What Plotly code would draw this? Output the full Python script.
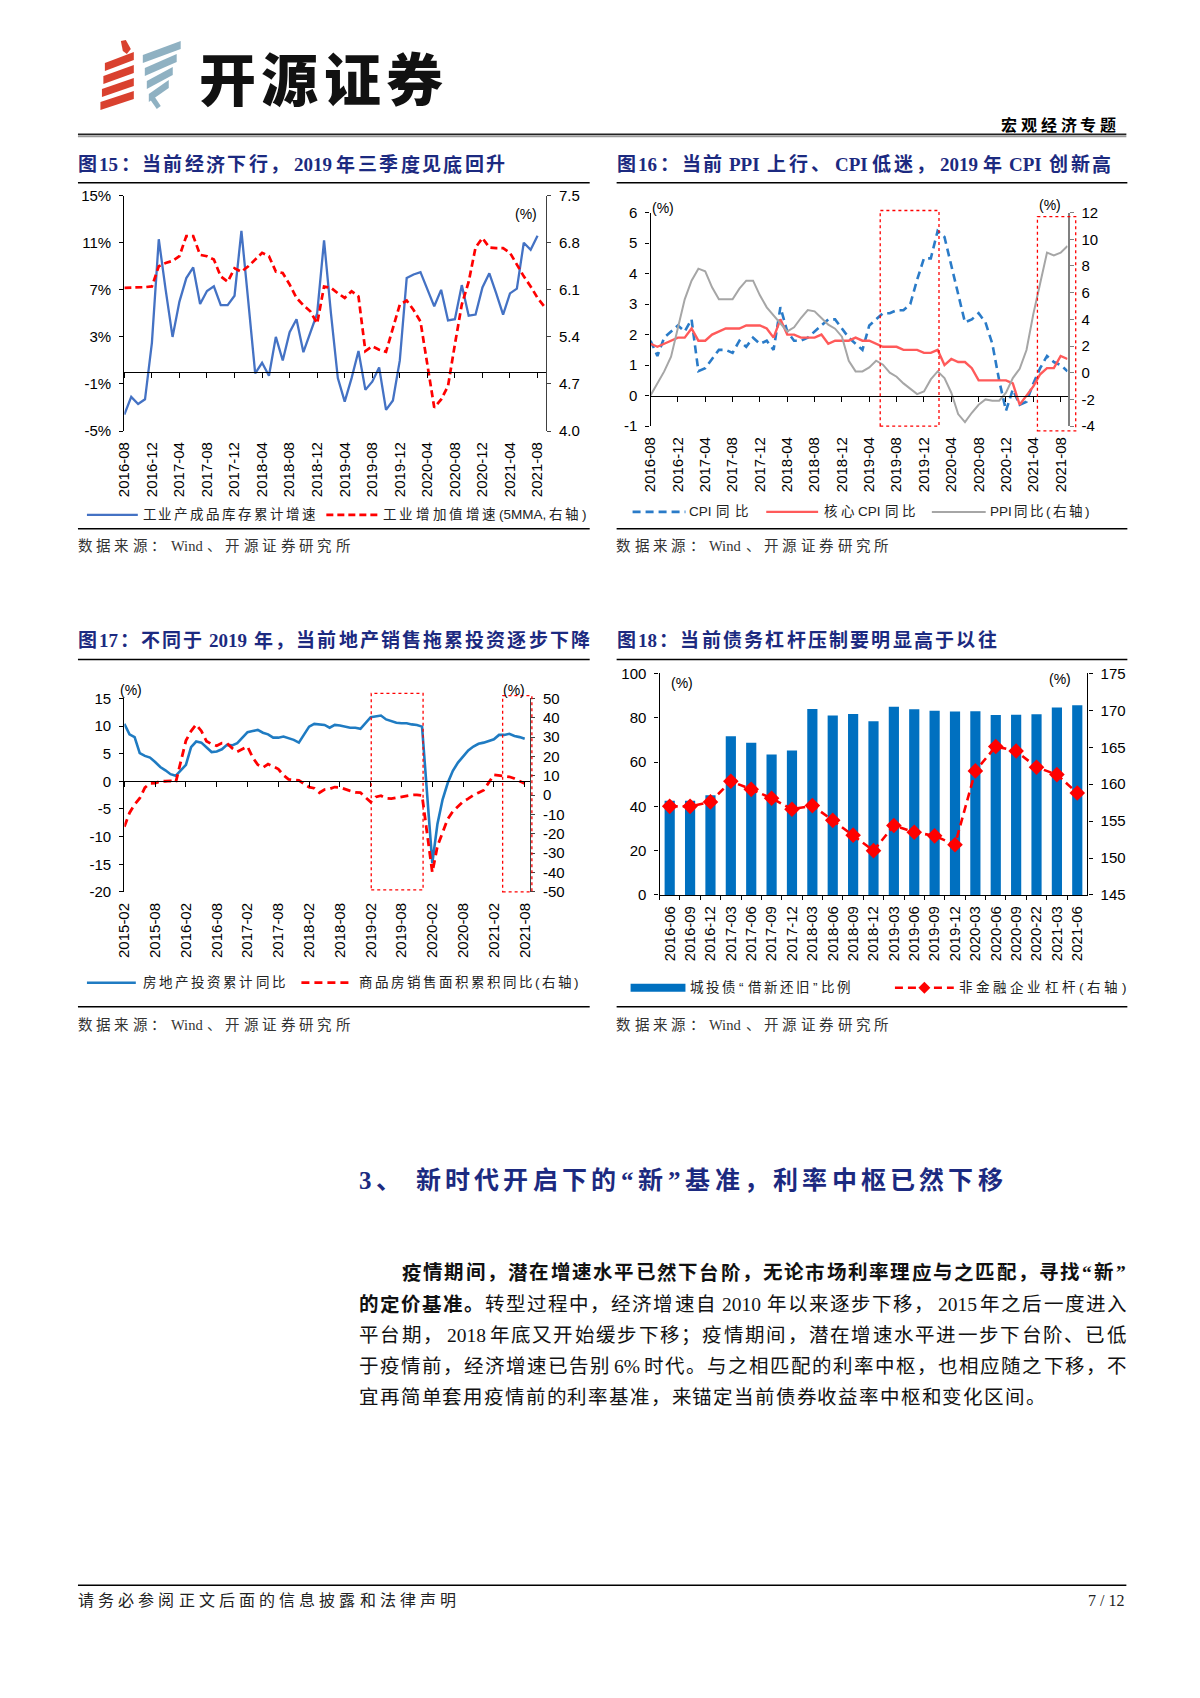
import plotly.graph_objects as go

W, H = 1200, 1698


def TX(v):
    # page-pixel calibration (screenshot offset of the rendered page)
    return v * 1.0076 - 15


def PX(x):
    return TX(x) / W


def PY(y):
    return 1 - TX(y) / H


def month_range(start, end):
    y, m = map(int, start.split("-"))
    ye, me = map(int, end.split("-"))
    out = []
    while (y, m) <= (ye, me):
        out.append(f"{y}-{m:02d}")
        m += 1
        if m > 12:
            y, m = y + 1, 1
    return out


# ======================= DATA =======================
# Fig 15
months15 = month_range("2016-08", "2021-09")
ticks15 = months15[0:61:4]
inventory15 = [-3.6, -2.1, -2.7, -2.3, 2.5, 11.3, 7.0, 3.0, 6.0, 8.0,
               8.9, 5.8, 6.9, 7.3, 5.7, 5.7, 6.5, 12.0, 6.0, -0.1,
               0.8, -0.3, 3.0, 1.0, 3.4, 4.5, 1.7, 3.4, 5.0, 11.2,
               5.0, -0.5, -2.5, -0.5, 1.8, -1.5, -0.8, 0.4, -3.2, -2.4,
               1.0, 8.0, 8.3, 8.5, 7.0, 5.6, 7.0, 4.4, 4.5, 7.4,
               4.8, 4.9, 7.2, 8.4, 6.7, 4.9, 6.7, 7.1, 11.0, 10.4,
               11.6, None]
iva15 = [6.13, 6.13, 6.13, 6.14, 6.15, 6.45, 6.5, 6.53, 6.6, 6.9,
         6.9, 6.62, 6.6, 6.55, 6.3, 6.22, 6.42, 6.37, 6.45, 6.55,
         6.65, 6.6, 6.37, 6.35, 6.18, 5.98, 5.87, 5.78, 5.6, 6.15,
         6.13, 6.05, 5.98, 6.08, 6.0, 5.19, 5.26, 5.21, 5.18, 5.53,
         5.88, 5.94, 5.8, 5.63, 4.99, 4.35, 4.47, 4.67, 5.29, 5.88,
         6.22, 6.73, 6.87, 6.73, 6.72, 6.72, 6.65, 6.47, 6.3, 6.15,
         5.98, 5.85]
left15_vals = [-5, -1, 3, 7, 11, 15]
left15_text = ["-5%", "-1%", "3%", "7%", "11%", "15%"]
right15_vals = [4.0, 4.7, 5.4, 6.1, 6.8, 7.5]
right15_text = ["4.0", "4.7", "5.4", "6.1", "6.8", "7.5"]

# Fig 16
months16 = month_range("2016-08", "2021-09")
ticks16 = months16[0:61:4]
cpi16 = [1.8, 1.3, 1.9, 2.1, 2.3, 2.1, 2.5, 0.8, 0.9, 1.2,
         1.5, 1.5, 1.4, 1.8, 1.6, 1.9, 1.7, 1.8, 1.5, 2.9,
         2.1, 1.8, 1.8, 1.9, 2.1, 2.3, 2.5, 2.5, 2.2, 1.9,
         1.7, 1.5, 2.3, 2.5, 2.7, 2.7, 2.8, 2.8, 3.0, 3.8,
         4.5, 4.5, 5.4, 5.2, 4.3, 3.3, 2.4, 2.5, 2.7, 2.4,
         1.7, 0.5, -0.5, 0.2, -0.3, -0.2, 0.4, 0.9, 1.3, 1.1,
         1.0, 0.8]
core16 = [1.7, 1.6, 1.7, 1.8, 1.9, 1.9, 2.2, 1.8, 1.8, 2.0,
          2.1, 2.2, 2.2, 2.2, 2.3, 2.3, 2.3, 2.2, 1.9, 2.5,
          2.0, 2.0, 1.9, 1.9, 1.9, 2.0, 1.7, 1.8, 1.8, 1.8,
          1.9, 1.8, 1.8, 1.7, 1.6, 1.6, 1.6, 1.5, 1.5, 1.5,
          1.4, 1.4, 1.5, 1.0, 1.2, 1.1, 1.1, 0.9, 0.5, 0.5,
          0.5, 0.5, 0.5, 0.4, -0.3, 0.0, 0.3, 0.7, 0.9, 0.9,
          1.3, 1.2]
ppi16 = [-1.7, -0.8, 0.1, 1.2, 3.3, 5.5, 6.9, 7.8, 7.6, 6.4,
         5.5, 5.5, 5.5, 6.3, 6.9, 6.9, 5.8, 4.9, 4.3, 3.7,
         3.1, 3.4, 4.1, 4.7, 4.6, 4.1, 3.6, 3.3, 2.7, 0.9,
         0.1, 0.1, 0.4, 0.9, 0.6, 0.0, -0.3, -0.8, -1.2, -1.6,
         -1.4, -0.5, 0.1, -0.4, -1.5, -3.1, -3.7, -3.0, -2.4, -2.0,
         -2.1, -2.1, -1.5, -0.4, 0.3, 1.7, 4.4, 6.8, 9.0, 8.8,
         9.0, 9.5]
left16_vals = [-1, 0, 1, 2, 3, 4, 5, 6]
left16_text = ["-1", "0", "1", "2", "3", "4", "5", "6"]
right16_vals = [-4, -2, 0, 2, 4, 6, 8, 10, 12]
right16_text = ["-4", "-2", "0", "2", "4", "6", "8", "10", "12"]
# highlighted periods: (x index start, x index end, left-axis bottom, left-axis top)
boxes16 = [(33.6, 42.2, -1.0, 6.07), (56.6, 62.2, -1.16, 5.87)]

# Fig 17
months17 = month_range("2015-02", "2021-08")
ticks17 = months17[::6]
reinv17 = [10.4, 8.5, 8.0, 5.1, 4.6, 4.3, 3.5, 2.6, 2.0, 1.3, 1.0,
           None, 3.0, 6.2, 7.2, 7.0, 6.1, 5.3, 5.4, 5.8, 6.6, 6.5, 6.9,
           None, 8.9, 9.1, 9.3, 8.8, 8.5, 7.9, 7.9, 8.1, 7.8, 7.5, 7.0,
           None, 9.9, 10.4, 10.3, 10.2, 9.7, 10.2, 10.1, 9.9, 9.7, 9.7, 9.5,
           None, 11.6, 11.8, 11.9, 11.2, 10.9, 10.6, 10.5, 10.5, 10.3, 10.2, 9.9,
           None, -14.8, -7.7, -3.3, -0.3, 1.9, 3.4, 4.6, 5.6, 6.3, 6.8, 7.0,
           None, 7.6, 8.4, 8.4, 8.6, 8.2, 8.0, 7.7]
sales17 = [-16.3, -9.2, -4.8, -1.6, 3.9, 6.1, 6.2, 7.2, 7.2, 7.4, 6.5,
           None, 28.2, 33.1, 36.5, 33.2, 27.9, 26.4, 25.5, 26.9, 26.8, 24.3, 22.5,
           None, 25.1, 19.5, 15.7, 14.3, 16.1, 15.0, 13.5, 10.3, 8.2, 7.9, 7.7,
           None, 4.1, 3.6, 1.3, 2.9, 3.3, 4.2, 4.0, 2.9, 2.2, 1.4, 1.3,
           None, -3.6, -0.9, -0.3, -1.6, -1.8, -1.3, -0.6, -0.1, 0.1, 0.2, -0.1,
           None, -39.9, -26.3, -19.3, -12.3, -8.4, -5.8, -3.3, -1.8, 0.0, 1.3, 2.6,
           None, 10.5, 10.2, 9.8, 9.5, 8.6, 7.5, 6.0]
left17_vals = [-20, -15, -10, -5, 0, 5, 10, 15]
left17_text = ["-20", "-15", "-10", "-5", "0", "5", "10", "15"]
right17_vals = [-50, -40, -30, -20, -10, 0, 10, 20, 30, 40, 50]
right17_text = ["-50", "-40", "-30", "-20", "-10", "0", "10", "20", "30", "40", "50"]
boxes17 = [(48.1, 58.2, -19.64, 15.9), (73.7, 79.4, -20.0, 15.5)]

# Fig 18
quarters18 = ["2016-06", "2016-09", "2016-12", "2017-03", "2017-06", "2017-09",
              "2017-12", "2018-03", "2018-06", "2018-09", "2018-12", "2019-03",
              "2019-06", "2019-09", "2019-12", "2020-03", "2020-06", "2020-09",
              "2020-22", "2021-03", "2021-06"]
ratio18 = [42.5, 42.5, 45.0, 71.7, 68.7, 63.4, 65.2, 84.0, 81.0, 81.7, 78.4,
           85.0, 83.8, 83.2, 82.8, 82.9, 81.3, 81.4, 81.6, 84.6, 85.6]
leverage18 = [157.0, 157.0, 157.6, 160.4, 159.3, 158.1, 156.6, 157.1, 155.1,
              153.1, 151.0, 154.4, 153.5, 153.0, 151.8, 161.8, 165.1, 164.5,
              162.3, 161.3, 158.8]
left18_vals = [0, 20, 40, 60, 80, 100]
right18_vals = [145, 150, 155, 160, 165, 170, 175]

# ======================= STYLE =======================
NAVY = "#1C2A80"
RED = "#FF0000"
DASH = "8px,5px"
BLUE15 = "#4472C4"
BLUE16 = "#2A7BC8"
CORE16 = "#FF5A5A"
GRAY16 = "#A6A6A6"
BLUE17 = "#1F7BC2"
BAR18 = "#0070C0"

SANS = "Liberation Sans, Arial, Noto Sans CJK SC, sans-serif"
SERIF = "Liberation Serif, Times New Roman, Noto Sans CJK SC, serif"
CJK = "Noto Sans CJK SC, sans-serif"
TICKFONT = dict(family="Liberation Sans, Arial, sans-serif", size=15, color="#000")

SERIF_W = {"_": 0.5, " ": 0.25, "%": 0.833, "P": 0.611, "C": 0.722, "I": 0.389,
           "W": 0.944, "i": 0.278, "n": 0.556, "d": 0.556, "(": 0.333, ")": 0.333,
           ",": 0.25, "M": 0.944, "A": 0.722, "/": 0.278}
SANS_W = {"_": 0.556, " ": 0.278, "%": 0.889, "P": 0.667, "C": 0.722, "I": 0.278,
          "M": 0.833, "A": 0.667, "(": 0.333, ")": 0.333, ",": 0.278, "W": 0.944}
NARROW = {"“": 0.55, "”": 0.55}

# plot frames in page pixels (left, right), (top, bottom)
FR = {
    15: dict(x=(122.5, 545.0), y=(194.0, 430.0)),
    16: dict(x=(650.0, 1068.0), y=(211.0, 425.0)),
    17: dict(x=(122.5, 529.0), y=(698.0, 892.0)),
    18: dict(x=(659.0, 1088.0), y=(673.0, 895.0)),
}
XR = {15: [0, 61.2], 16: [0, 61.0], 17: [0, 79.0], 18: [-0.5, 20.5]}
YL = {15: [-5, 15], 16: [-1, 6], 17: [-20, 15], 18: [0, 100]}
YR = {15: [4.0, 7.5], 16: [-4, 12], 17: [-50, 50], 18: [145, 175]}


def xdom(k):
    return [PX(FR[k]["x"][0]), PX(FR[k]["x"][1])]


def ydom(k):
    return [PY(FR[k]["y"][1]), PY(FR[k]["y"][0])]


def dpx(k, v):
    x0, x1 = FR[k]["x"]
    r = XR[k]
    return x0 + (v - r[0]) / (r[1] - r[0]) * (x1 - x0)


def dpy(k, v):
    y0, y1 = FR[k]["y"]
    r = YL[k]
    return y1 - (v - r[0]) / (r[1] - r[0]) * (y1 - y0)


ANN = []
SHAPES = []


def place(segs, x0, x1, y, size, color, family, wtab, gap=None, weight=None):
    toks = []
    for txt, bold in segs:
        buf = ""
        for ch in txt:
            if ord(ch) < 128:
                buf += ch
            else:
                if buf:
                    toks.append((buf, sum(wtab.get(c, wtab["_"]) for c in buf), bold))
                    buf = ""
                toks.append((ch, NARROW.get(ch, 1.0), bold))
        if buf:
            toks.append((buf, sum(wtab.get(c, wtab["_"]) for c in buf), bold))
    nat = sum(t[1] for t in toks) * size
    if gap is None:
        gap = (x1 - x0 - nat) / max(len(toks) - 1, 1)
    x = x0
    for txt, w, bold in toks:
        wpx = w * size
        s = txt.strip()
        if s:
            f = dict(family=family, size=size, color=color)
            if weight:
                f["weight"] = weight
            ANN.append(dict(text=(f"<b>{s}</b>" if bold else s), x=PX(x + wpx / 2), y=PY(y),
                            xref="paper", yref="paper", xanchor="center", yanchor="middle",
                            showarrow=False, font=f))
        x += wpx + gap
    return gap


def hline(x0, x1, y, color="#000", width=1.3, dash=None):
    ln = dict(color=color, width=width)
    if dash:
        ln["dash"] = dash
    SHAPES.append(dict(type="line", xref="paper", yref="paper", x0=PX(x0), x1=PX(x1),
                       y0=PY(y), y1=PY(y), line=ln, layer="above"))


def text(s, x, y, size=14, color="#000", family=SANS, xanchor="center"):
    ANN.append(dict(text=s, x=PX(x), y=PY(y), xref="paper", yref="paper", xanchor=xanchor,
                    yanchor="middle", showarrow=False, font=dict(family=family, size=size, color=color)))


def box(k, b):
    xa, xb, ya, yb = b
    SHAPES.append(dict(type="rect", xref="paper", yref="paper",
                       x0=PX(dpx(k, xa)), x1=PX(dpx(k, xb)), y0=PY(dpy(k, ya)), y1=PY(dpy(k, yb)),
                       line=dict(color=RED, width=1.3, dash="dot"), fillcolor="rgba(0,0,0,0)", layer="above"))


def poly(points, color):
    d = "M " + " L ".join(f"{PX(a):.5f},{PY(b):.5f}" for a, b in points) + " Z"
    SHAPES.append(dict(type="path", xref="paper", yref="paper", path=d, fillcolor=color,
                       line=dict(width=0), layer="above"))


# ======================= FIGURE =======================
fig = go.Figure()

# Fig 15
fig.add_trace(go.Scatter(x=months15, y=inventory15, mode="lines", name="工业产成品库存累计增速",
                         line=dict(color=BLUE15, width=2.3), xaxis="x", yaxis="y"))
fig.add_trace(go.Scatter(x=months15, y=iva15, mode="lines", name="工业增加值增速(5MMA,右轴)",
                         line=dict(color=RED, width=2.7, dash="7px,4px"), xaxis="x", yaxis="y2"))
fig.add_trace(go.Scatter(x=[months15[0]], y=[None], xaxis="x5", yaxis="y", showlegend=False,
                         hoverinfo="skip"))

# Fig 16
fig.add_trace(go.Scatter(x=months16, y=cpi16, mode="lines", name="CPI同比",
                         line=dict(color=BLUE16, width=2.6, dash=DASH), xaxis="x2", yaxis="y3"))
fig.add_trace(go.Scatter(x=months16, y=core16, mode="lines", name="核心CPI同比",
                         line=dict(color=CORE16, width=2.4), xaxis="x2", yaxis="y3"))
fig.add_trace(go.Scatter(x=months16, y=ppi16, mode="lines", name="PPI同比(右轴)",
                         line=dict(color=GRAY16, width=2.0), xaxis="x2", yaxis="y4"))
fig.add_trace(go.Scatter(x=[months16[0]], y=[None], xaxis="x6", yaxis="y3", showlegend=False,
                         hoverinfo="skip"))

# Fig 17
fig.add_trace(go.Scatter(x=months17, y=reinv17, mode="lines", name="房地产投资累计同比", connectgaps=True,
                         line=dict(color=BLUE17, width=2.6), xaxis="x3", yaxis="y5"))
fig.add_trace(go.Scatter(x=months17, y=sales17, mode="lines", name="商品房销售面积累积同比(右轴)",
                         connectgaps=True, line=dict(color=RED, width=2.8, dash=DASH),
                         xaxis="x3", yaxis="y6"))
fig.add_trace(go.Scatter(x=[months17[0]], y=[None], xaxis="x7", yaxis="y5", showlegend=False,
                         hoverinfo="skip"))

# Fig 18
fig.add_trace(go.Bar(x=quarters18, y=ratio18, name="城投债“借新还旧”比例", marker=dict(color=BAR18, line=dict(width=0)),
                     width=0.5, xaxis="x4", yaxis="y7"))
fig.add_trace(go.Scatter(x=quarters18, y=leverage18, mode="lines+markers", name="非金融企业杠杆(右轴)",
                         line=dict(color=RED, width=2.6, dash=DASH),
                         marker=dict(symbol="diamond", size=12, color=RED),
                         xaxis="x4", yaxis="y8"))


def x_main(k, cats, tickv, yid, **kw):
    d = dict(domain=xdom(k), anchor=yid, type="category", categoryorder="array", categoryarray=cats,
             range=XR[k], tickmode="array", tickvals=tickv, ticktext=tickv, tickangle=-90,
             ticks="", showline=False, showgrid=False, zeroline=False, tickfont=TICKFONT,
             ticklabelstandoff=7, fixedrange=True)
    d.update(kw)
    return d


def x_zero(k, base, cats, tickv):
    frac = (0 - YL[k][0]) / (YL[k][1] - YL[k][0])
    d0, d1 = ydom(k)
    pos = d0 + frac * (d1 - d0)
    return dict(overlaying=base, anchor="free", position=pos, type="category", categoryorder="array",
                categoryarray=cats, range=XR[k], tickmode="array", tickvals=tickv,
                showticklabels=False, ticks="outside", ticklen=5, tickwidth=1.2, tickcolor="#000",
                showline=True, linecolor="#000", linewidth=1.3, showgrid=False, zeroline=False,
                fixedrange=True)


def y_ax(k, rng, vals, texts, side, xid, overlay=None, color="#000", width=1.3):
    d = dict(domain=ydom(k), range=rng, tickmode="array", tickvals=vals, ticktext=texts, side=side,
             anchor=xid, showline=True, linecolor=color, linewidth=width, ticks="outside", ticklen=4,
             tickwidth=1.2, tickcolor=color, showgrid=False, zeroline=False, tickfont=TICKFONT,
             ticklabelstandoff=5, fixedrange=True)
    if overlay:
        d["overlaying"] = overlay
    return d


fig.update_layout(
    width=W, height=H, margin=dict(l=0, r=0, t=0, b=0),
    paper_bgcolor="white", plot_bgcolor="white", showlegend=False,
    xaxis=x_main(15, months15, ticks15, "y"),
    xaxis5=x_zero(15, "x", months15, ticks15),
    yaxis=y_ax(15, YL[15], left15_vals, left15_text, "left", "x"),
    yaxis2=y_ax(15, YR[15], right15_vals, right15_text, "right", "x", overlay="y", color="#404040"),
    xaxis2=x_main(16, months16, ticks16, "y3"),
    xaxis6=x_zero(16, "x2", months16, ticks16),
    yaxis3=y_ax(16, YL[16], left16_vals, left16_text, "left", "x2"),
    yaxis4=y_ax(16, YR[16], right16_vals, right16_text, "right", "x2", overlay="y3", color="#808080", width=2),
    xaxis3=x_main(17, months17, ticks17, "y5"),
    xaxis7=x_zero(17, "x3", months17, ticks17),
    yaxis5=y_ax(17, YL[17], left17_vals, left17_text, "left", "x3"),
    yaxis6=y_ax(17, YR[17], right17_vals, right17_text, "right", "x3", overlay="y5", color="#404040"),
    xaxis4=x_main(18, quarters18, quarters18, "y7", ticks="outside", ticklen=4, tickwidth=1.2,
                  tickcolor="#000", tickson="boundaries", showline=True, linecolor="#000",
                  linewidth=1.3, ticklabelstandoff=4),
    yaxis7=y_ax(18, YL[18], left18_vals, [str(v) for v in left18_vals], "left", "x4"),
    yaxis8=y_ax(18, YR[18], right18_vals, [str(v) for v in right18_vals], "right", "x4", overlay="y7"),
    bargap=0.5,
)

# ======================= PAGE DECORATION =======================
# logo
for k in range(4):
    L = 103 - k * 1.5
    yl = 61 + k * 13
    poly([(L, yl), (132, yl - 11), (132, yl - 3), (L, yl + 8)], "#D9412F")
poly([(119, 39), (124, 38), (129, 47), (125, 52), (121, 49)], "#D9412F")
for k in range(4):
    L = 141 + k * 2
    R = 179 - k * 4
    yl = 53 + k * 13
    poly([(L, yl), (R, yl - 14), (R, yl - 6), (L, yl + 8)], "#8FB1C2")
poly([(148, 97), (153, 95), (159, 104), (155, 107)], "#8FB1C2")

place([("开源证券", False)], 197, 442, 74, 57, "#111", CJK, SERIF_W, weight=900)
place([("宏观经济专题", True)], 1001, 1117, 122, 16, "#000", CJK, SERIF_W)
hline(76, 1127, 132.5, "#222", 1.5)
hline(76, 1127, 134.5, "#9A9A9A", 2)

# chart titles, rules, sources
place([("图15：当前经济下行，2019 年三季度见底回升", True)], 76, 504, 163, 19, NAVY, SERIF, SERIF_W)
place([("图16：当前 PPI 上行、CPI 低迷，2019 年 CPI 创新高", True)], 616, 1112, 163, 19, NAVY, SERIF, SERIF_W)
place([("图17：不同于 2019 年，当前地产销售拖累投资逐步下降", True)], 76, 589, 640, 19, NAVY, SERIF, SERIF_W)
place([("图18：当前债务杠杆压制要明显高于以往", True)], 616, 997, 640, 19, NAVY, SERIF, SERIF_W)
hline(76, 589, 181, "#000", 1.5)
hline(616, 1128, 181, "#000", 1.5)
hline(76, 589, 659, "#000", 1.5)
hline(616, 1128, 659, "#000", 1.5)
hline(76, 589, 528, "#000", 1.5)
hline(616, 1128, 528, "#000", 1.5)
hline(76, 589, 1007, "#000", 1.5)
hline(616, 1128, 1007, "#000", 1.5)
for (sx, sy) in [(76, 545), (616, 545), (76, 1025), (616, 1025)]:
    place([("数据来源：Wind、开源证券研究所", False)], sx, sx + 273, sy, 14.5, "#333", SERIF, SERIF_W)

# unit labels
text("(%)", 525, 212)
text("(%)", 662, 206)
text("(%)", 1050, 203)
text("(%)", 129, 690)
text("(%)", 513, 690)
text("(%)", 682, 683)
text("(%)", 1060, 679)

# highlight boxes
for b in boxes16:
    box(16, b)
for b in boxes17:
    box(17, b)

# legends
LF = 13.5
hline(85, 136, 514, BLUE15, 2.3)
place([("工业产成品库存累计增速", False)], 141, 314, 514, LF, "#222", SANS, SANS_W)
hline(325, 377, 514, RED, 2.7, "7px,4px")
place([("工业增加值增速(5MMA,右轴)", False)], 382, 586, 514, LF, "#222", SANS, SANS_W)

hline(632, 685, 511, BLUE16, 2.6, DASH)
place([("CPI同比", False)], 689, 748, 511, LF, "#222", SANS, SANS_W)
hline(766, 818, 511, CORE16, 2.4)
place([("核心CPI同比", False)], 824, 916, 511, LF, "#222", SANS, SANS_W)
hline(932, 986, 511, GRAY16, 2.0)
place([("PPI同比(右轴)", False)], 990, 1090, 511, LF, "#222", SANS, SANS_W)

hline(85, 134, 983, BLUE17, 2.6)
place([("房地产投资累计同比", False)], 141, 284, 983, LF, "#222", SANS, SANS_W)
hline(300, 352, 983, RED, 2.8, DASH)
place([("商品房销售面积累积同比(右轴)", False)], 358, 578, 983, LF, "#222", SANS, SANS_W)

SHAPES.append(dict(type="rect", xref="paper", yref="paper", x0=PX(630), x1=PX(685), y0=PY(992), y1=PY(984),
                   fillcolor=BAR18, line=dict(width=0), layer="above"))
place([("城投债“借新还旧”比例", False)], 690, 851, 988, LF, "#222", SANS, SANS_W)
hline(895, 954, 988, RED, 2.6, DASH)
poly([(924.5, 982), (930.5, 988), (924.5, 994), (918.5, 988)], RED)
place([("非金融企业杠杆(右轴)", False)], 959, 1127, 988, LF, "#222", SANS, SANS_W)

# section heading and body text
place([("3、 新时代开启下的“新”基准，利率中枢已然下移", True)], 358, 1003, 1181, 25, NAVY, SERIF, SERIF_W)
BF = 19.5
place([("疫情期间，潜在增速水平已然下台阶，无论市场利率理应与之匹配，寻找“新”", True)], 401, 1127, 1274, BF, "#111", SERIF, SERIF_W)
place([("的定价基准。", True), ("转型过程中，经济增速自 2010 年以来逐步下移，2015 年之后一度进入", False)], 358, 1127, 1306, BF, "#111", SERIF, SERIF_W)
place([("平台期，2018 年底又开始缓步下移；疫情期间，潜在增速水平进一步下台阶、已低", False)], 358, 1127, 1337, BF, "#111", SERIF, SERIF_W)
place([("于疫情前，经济增速已告别 6%时代。与之相匹配的利率中枢，也相应随之下移，不", False)], 358, 1127, 1368, BF, "#111", SERIF, SERIF_W)
place([("宜再简单套用疫情前的利率基准，来锚定当前债券收益率中枢和变化区间。", False)], 358, 1046, 1399, BF, "#111", SERIF, SERIF_W)

# footer
hline(76, 1127, 1587, "#000", 1.5)
place([("请务必参阅正文后面的信息披露和法律声明", False)], 76, 455, 1602, 16, "#222", SERIF, SERIF_W)
text("7 / 12", 1127, 1602, 16, "#222", SERIF, xanchor="right")

fig.update_layout(annotations=ANN, shapes=SHAPES)
fig.write_html("out.html")
